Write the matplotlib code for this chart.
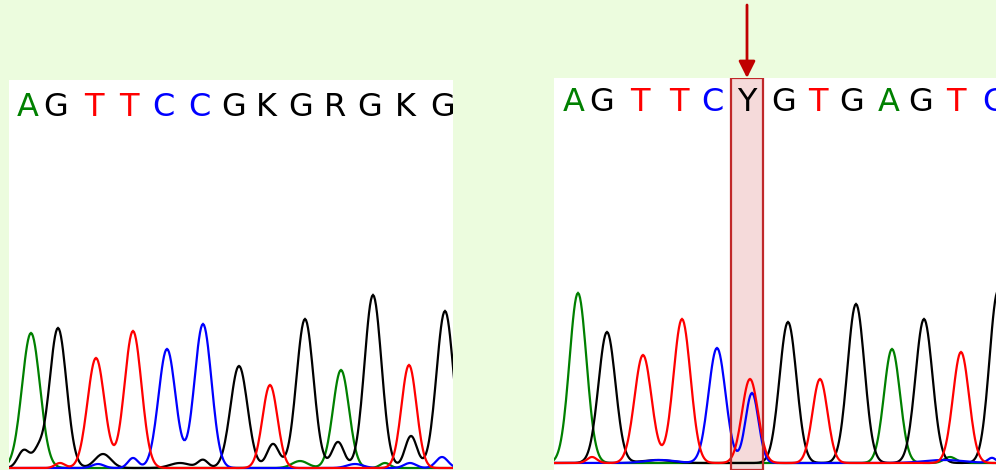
import numpy as np
import matplotlib
matplotlib.use("Agg")
import matplotlib.pyplot as plt

# ---------------- data ----------------
left_bases = list("AGTTCCGKGRGKG")
left_base_pos = [19, 47, 85, 120, 154, 190, 225, 257, 292, 326, 361, 396, 434]
right_bases = list("AGTTCYGTGAGTC")
right_base_pos = [20, 48, 86, 125, 158, 193, 230, 264, 298, 335, 367, 402, 439]
highlight_index = 5  # the "Y" call in the right trace

# peaks: (scan position, signal height, peak width)
left_green = [(22, 135, 9), (332, 98, 8), (291, 7, 8), (376, 5, 5)]
left_black = [(15, 18, 6), (29, 14, 5), (49, 140, 8.5), (94, 14, 8), (171, 5, 10), (194, 8, 5),
              (230, 102, 8.5), (264, 24, 6), (296, 149, 8.5), (329, 26, 6), (364, 173, 8.5),
              (402, 32, 6), (436, 157, 8.5)]
left_red = [(51, 5, 5), (87, 110, 8.5), (124, 137, 8.5), (261, 83, 7.5), (400, 103, 7.5)]
left_blue = [(89, 4, 6), (124, 10, 5), (158, 119, 8.5), (194, 144, 8.5), (346, 4, 8),
             (401, 5, 6), (433, 11, 6)]

right_green = [(24, 170, 8.5), (338, 114, 8), (396, 6, 6)]
right_black = [(53, 131, 8.5), (103, 3, 15), (234, 141, 8.5), (302, 159, 8.5),
               (370, 144, 8.5), (444, 172, 8.5)]
right_red = [(38, 6, 5), (89, 108, 8.5), (128, 144, 8.5), (196, 84, 8), (266, 84, 7.5),
             (407, 111, 8)]
right_blue = [(163, 115, 8.5), (198, 70, 6.5), (106, 3, 15), (390, 3, 20), (438, 5, 4)]

base_colors = {"A": "#008000", "C": "#0000ff", "G": "#000000", "T": "#ff0000"}
channel_colors = {"green": "#008000", "black": "#000000", "blue": "#0000ff", "red": "#ff0000"}

# ---------------- drawing ----------------
W, H = 996, 470
fig = plt.figure(figsize=(W / 100, H / 100), dpi=100)
fig.patch.set_facecolor("#ecfcde")


def trace(peaks, x):
    y = np.zeros_like(x)
    for p, h, w in peaks:
        y += h * np.exp(-0.5 * ((x - p) / w) ** 2)
    return y


def panel(rect, xmax, ylim, channels, bases, base_pos):
    ax = fig.add_axes(rect)
    ax.set_facecolor("white")
    ax.set_xlim(0, xmax)
    ax.set_ylim(*ylim)
    for s in ax.spines.values():
        s.set_visible(False)
    ax.set_xticks([])
    ax.set_yticks([])
    x = np.arange(-10, xmax + 10, 1.0)
    for name, peaks in channels:
        ax.plot(x, trace(peaks, x), color=channel_colors[name], lw=1.6,
                solid_joinstyle="miter", zorder=3)
    for b, p in zip(bases, base_pos):
        ax.text(p, 352, b, color=base_colors.get(b, "#000000"), ha="center", va="baseline",
                fontsize=23, family="DejaVu Sans", clip_on=True, zorder=4)
    return ax


ax_l = panel([9 / W, 0, 444 / W, 390 / H], 444, (-2, 388),
             [("green", left_green), ("black", left_black), ("blue", left_blue), ("red", left_red)],
             left_bases, left_base_pos)

ax_r = panel([554 / W, 0, 442 / W, 392 / H], 442, (-7, 385),
             [("green", right_green), ("black", right_black), ("blue", right_blue), ("red", right_red)],
             right_bases, right_base_pos)

# highlight box around the ambiguous base
hc = right_base_pos[highlight_index]
ax_r.axvspan(hc - 16, hc + 16, facecolor="#f5dada", edgecolor="none", zorder=1)
ax_r.axvspan(hc - 16, hc + 16, facecolor="none", edgecolor="#c0282a", lw=1.6, zorder=5)

# arrow pointing to the highlighted base
ax_r.annotate("", xy=(hc, 1.0), xycoords=("data", "axes fraction"),
              xytext=(hc, 465 / 392), textcoords=("data", "axes fraction"),
              arrowprops=dict(arrowstyle="-|>", color="#c00000", lw=2, mutation_scale=25,
                              shrinkA=0, shrinkB=0), annotation_clip=False)

fig.savefig("out.png", dpi=100, facecolor=fig.get_facecolor())
